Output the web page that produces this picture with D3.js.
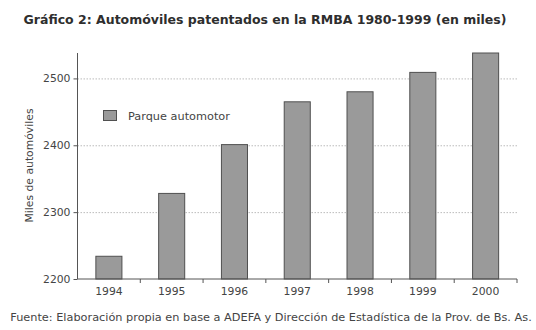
<!DOCTYPE html>
<html>
<head>
<meta charset="utf-8">
<script src="https://cdn.jsdelivr.net/npm/d3@7"></script>
<style>
  body { margin: 0; background: #fff; }
  svg { display: block; font-family: "DejaVu Sans", sans-serif; }
  .title { font-size: 12.5px; font-weight: bold; fill: #2e2e2e; }
  .label { font-size: 10.8px; fill: #444; }
  .source { font-size: 11.3px; fill: #444; }
  .legend { font-size: 11.3px; fill: #444; }
  .axis text { font-size: 10.8px; fill: #444; font-family: "DejaVu Sans", sans-serif; }
  .axis path, .axis line { stroke: #555; }
  .grid line { stroke: #bbb; stroke-dasharray: 1.5 1.5; }
  .grid path { display: none; }
</style>
</head>
<body>
<svg width="536" height="330"></svg>
<script>
const years = ['1994', '1995', '1996', '1997', '1998', '1999', '2000'];
const parque = [2234, 2328, 2401, 2465, 2480, 2509, 2538];
const yTicks = [2200, 2300, 2400, 2500];

const svg = d3.select('svg');
const plotLeft = 77.5, plotRight = 517, plotTop = 53, plotBottom = 279;

const xScale = d3.scaleBand()
  .domain(years)
  .range([plotLeft, plotRight])
  .paddingInner(0.585)
  .paddingOuter(0.2925);

const yScale = d3.scaleLinear()
  .domain([2200, 2538])
  .range([plotBottom, plotTop]);

const step = xScale.step();

// grid
svg.append('g')
  .attr('class', 'grid')
  .attr('transform', `translate(${plotLeft}, 0)`)
  .call(d3.axisLeft(yScale)
    .tickValues(yTicks.slice(1))
    .tickSize(-(plotRight - plotLeft))
    .tickFormat(''));

// bars
svg.append('g')
  .selectAll('rect')
  .data(years)
  .enter()
  .append('rect')
  .attr('x', (d) => xScale(d))
  .attr('y', (d, i) => yScale(parque[i]))
  .attr('width', xScale.bandwidth())
  .attr('height', (d, i) => plotBottom - yScale(parque[i]))
  .attr('fill', '#9a9a9a')
  .attr('stroke', '#505050')
  .attr('stroke-width', 1);

// y axis
svg.append('g')
  .attr('class', 'axis')
  .attr('transform', `translate(${plotLeft}, 0)`)
  .call(d3.axisLeft(yScale).tickValues(yTicks).tickSize(4).tickPadding(3).tickFormat(d3.format('d')))
  .call(g => g.select('.domain').attr('d', `M0,${plotBottom}V${plotTop}`));

// x axis: labels centered, ticks between categories
const xAxis = svg.append('g')
  .attr('class', 'axis')
  .attr('transform', `translate(0, ${plotBottom})`)
  .call(d3.axisBottom(xScale).tickSize(0).tickPadding(8));
xAxis.select('.domain').attr('d', `M${plotLeft},0H${plotRight}`);
xAxis.selectAll('.sep')
  .data(years)
  .enter()
  .append('line')
  .attr('class', 'sep')
  .attr('x1', (d) => xScale(d) + xScale.bandwidth() / 2 + step / 2)
  .attr('x2', (d) => xScale(d) + xScale.bandwidth() / 2 + step / 2)
  .attr('y1', 0)
  .attr('y2', 4);

// legend
svg.append('rect')
  .attr('x', 103.5).attr('y', 110.5)
  .attr('width', 13).attr('height', 10)
  .attr('fill', '#9a9a9a').attr('stroke', '#505050');
svg.append('text')
  .attr('class', 'legend')
  .attr('x', 128).attr('y', 119.5)
  .text('Parque automotor');

svg.append('text')
  .attr('class', 'title')
  .attr('x', 265).attr('y', 24)
  .attr('text-anchor', 'middle')
  .text('Gráfico 2: Automóviles patentados en la RMBA 1980-1999 (en miles)');

svg.append('text')
  .attr('class', 'label')
  .attr('transform', 'translate(33, 165.5) rotate(-90)')
  .attr('text-anchor', 'middle')
  .text('Miles de automóviles');

svg.append('text')
  .attr('class', 'source')
  .attr('x', 271).attr('y', 321)
  .attr('text-anchor', 'middle')
  .text('Fuente: Elaboración propia en base a ADEFA y Dirección de Estadística de la Prov. de Bs. As.');
</script>
</body>
</html>
